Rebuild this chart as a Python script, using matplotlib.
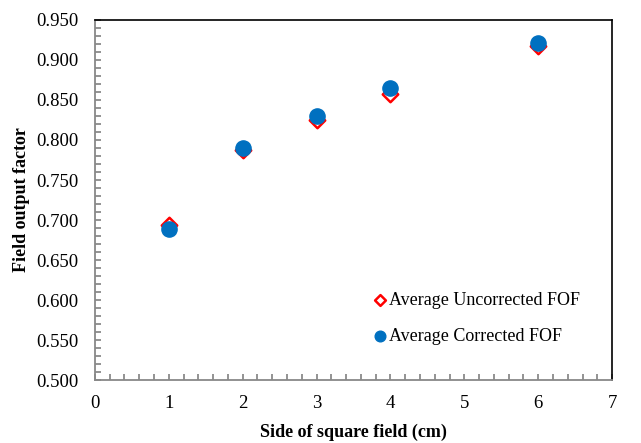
import matplotlib.pyplot as plt
from matplotlib.ticker import MultipleLocator, FormatStrFormatter

plt.rcParams['font.family'] = ['Liberation Serif', 'DejaVu Serif']

# field sizes (cm) and averaged output factors
field_side = [1, 2, 3, 4, 6]
fof_uncorrected = [0.694, 0.788, 0.825, 0.858, 0.917]
fof_corrected = [0.689, 0.790, 0.830, 0.865, 0.921]

fig, ax = plt.subplots(figsize=(6.41, 4.43), dpi=100)
fig.subplots_adjust(left=0.148, right=0.955, top=0.955, bottom=0.142)

ax.scatter(field_side, fof_uncorrected, marker='D', s=62, facecolors='white',
           edgecolors='#ff0000', linewidths=1.8, label='Average Uncorrected FOF', zorder=3)
ax.scatter(field_side, fof_corrected, marker='o', s=120, color='#0070c0',
           label='Average Corrected FOF', zorder=4)

ax.set_xlim(0, 7)
ax.set_ylim(0.5, 0.95)
ax.xaxis.set_major_locator(MultipleLocator(1))
ax.xaxis.set_minor_locator(MultipleLocator(0.2))
ax.yaxis.set_major_locator(MultipleLocator(0.05))
ax.yaxis.set_minor_locator(MultipleLocator(0.01))
ax.yaxis.set_major_formatter(FormatStrFormatter('%.3f'))

ax.tick_params(which='both', direction='in', colors='#808080', labelcolor='black',
               labelsize=13.5, length=4, width=1.2)
ax.tick_params(axis='y', which='major', pad=12)
ax.tick_params(axis='x', which='major', pad=11)

for side in ['left', 'bottom']:
    ax.spines[side].set_color('#888888')
    ax.spines[side].set_linewidth(1.3)
for side in ['top', 'right']:
    ax.spines[side].set_color('black')
    ax.spines[side].set_linewidth(1.2)

ax.set_xlabel('Side of square field (cm)', fontsize=13, fontweight='bold', labelpad=8)
ax.set_ylabel('Field output factor', fontsize=13, fontweight='bold', labelpad=4)

ax.legend(loc='upper left', bbox_to_anchor=(0.52, 0.264), borderaxespad=0, frameon=False,
          fontsize=13, handlelength=1.0, handletextpad=0.0, labelspacing=1.05,
          markerscale=0.7)

fig.savefig('out.png', dpi=100)
